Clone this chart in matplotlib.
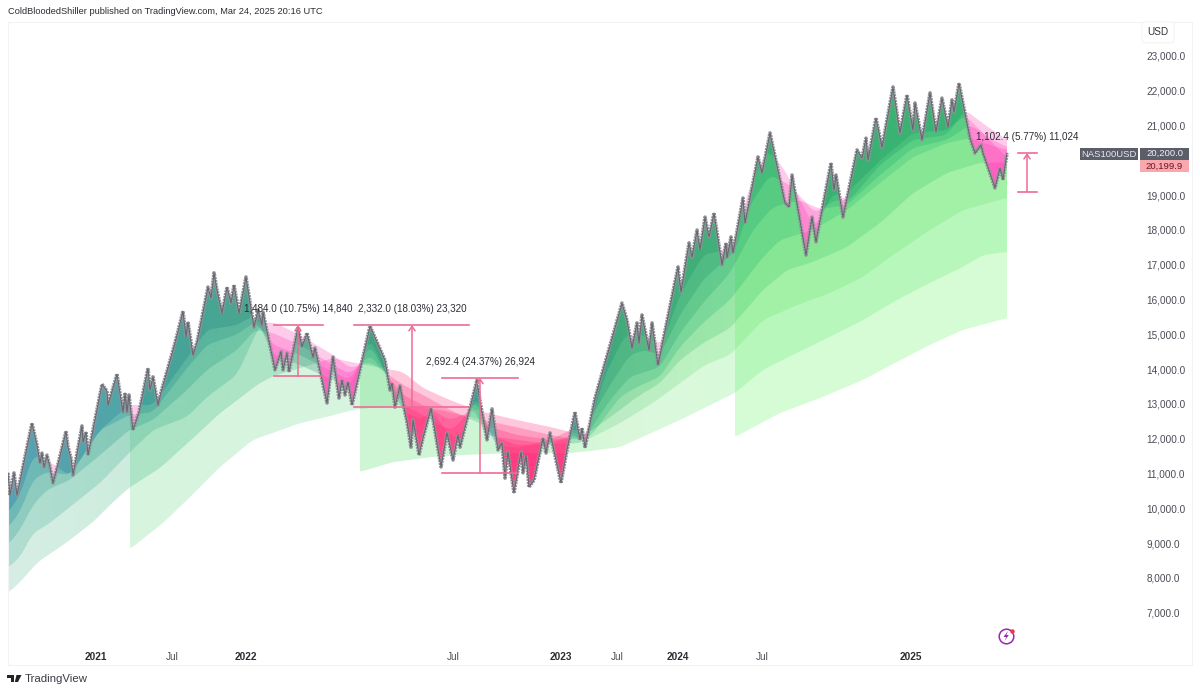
import numpy as np
import matplotlib
matplotlib.use("Agg")
import matplotlib.pyplot as plt
from matplotlib.colors import to_rgb
from matplotlib.patches import Polygon, PathPatch, Rectangle
from matplotlib.path import Path

plt.rcParams["font.family"] = ["Liberation Sans", "DejaVu Sans"]

# renko price pivots: bar position, price
price_x = [8, 10, 14, 17, 32, 37, 40, 42, 44, 47, 50, 53, 57, 66, 68, 71, 73, 82, 83, 86, 88, 102, 107, 108, 117, 123,
           125, 127, 129, 133, 139, 148, 150, 153, 158, 161, 173, 177, 183, 186, 188, 193, 197, 208, 211, 214, 217,
           222, 227, 231, 234, 239, 246, 254, 258, 262, 263, 275, 281, 283, 287, 289, 298, 302, 307, 313, 315, 327,
           333, 339, 342, 345, 348, 352, 370, 385, 390, 392, 395, 400, 405, 407, 411, 413, 417, 419, 423, 431, 441,
           447, 453, 458, 460, 477, 479, 487, 492, 498, 502, 505, 508, 514, 521, 523, 526, 529, 534, 543, 546, 550,
           561, 567, 575, 580, 582, 585, 595, 622, 627, 632, 637, 639, 642, 649, 652, 658, 678, 681, 689, 692, 697,
           700, 705, 709, 714, 722, 726, 727, 731, 733, 743, 745, 758, 762, 770, 785, 789, 792, 806, 812, 816, 831,
           834, 836, 843, 857, 862, 866, 868, 876, 882, 893, 900, 907, 913, 915, 922, 930, 936, 942, 948, 952, 954,
           959, 970, 975, 981, 983, 995, 1000, 1003, 1007]
price_y = [11020, 10380, 11020, 10380, 12450, 11820, 11300, 11590, 11190, 11530, 11190, 10730, 11160, 12220, 11760,
           11450, 10960, 12370, 11910, 12200, 11530, 13570, 13370, 12970, 13860, 12770, 13320, 12770, 13260, 12250,
           12770, 14030, 13400, 13780, 12970, 13340, 14550, 14980, 15670, 14930, 15360, 14410, 14780, 16360, 16040,
           16770, 16280, 15610, 16360, 15900, 16420, 15610, 16650, 15210, 15700, 15270, 15640, 13980, 14500, 13980,
           14460, 13920, 15210, 14640, 15040, 14350, 14610, 13030, 14350, 13170, 13690, 13260, 13630, 12970, 15240,
           14260, 13400, 13600, 12910, 13520, 12740, 12480, 11760, 12540, 11880, 11530, 12020, 12880, 11190, 12170,
           11390, 12110, 11760, 13690, 13260, 11970, 12860, 11680, 11880, 10870, 11620, 10440, 11620, 11020, 11530,
           10610, 10810, 12020, 11590, 12170, 10730, 11680, 12770, 11970, 12310, 11740, 13170, 15900, 15410, 14610,
           15330, 14750, 15560, 14550, 15330, 14120, 16940, 16220, 17630, 17220, 18000, 17430, 18370, 17800, 18490,
           17000, 17630, 17200, 17800, 17340, 18920, 18200, 20100, 19640, 20790, 18780, 18660, 19580, 17280, 18370,
           17660, 19930, 19150, 19580, 18370, 20300, 20070, 20640, 20010, 21220, 20380, 22110, 20790, 21880, 20870,
           21650, 20590, 21940, 20820, 21790, 20960, 21740, 21390, 22220, 20640, 20210, 20440, 20210, 19210, 19780,
           19440, 20210]

# moving average ribbon, slowest first
s735_x = [735, 780, 820, 863, 897, 930, 963, 1007]
s735_y = [12050, 12740, 13170, 13690, 14210, 14700, 15130, 15470]

s360_x = [360, 393, 433, 460, 510, 570, 590, 620, 680, 735, 763, 797, 830, 863, 897, 930, 963, 983, 1007]
s360_y = [11050, 11330, 11480, 11530, 11590, 11590, 11650, 11760, 12540, 13320, 13980, 14470, 14930, 15410, 15990,
          16480, 16940, 17280, 17370]

s130_x = [130, 163, 187, 220, 253, 273, 300, 327, 353, 400, 440, 483, 520, 550, 585, 620, 653, 680, 705, 730, 763,
          797, 830, 863, 890, 930, 963, 1007]
s130_y = [8830, 9580, 10240, 11190, 11970, 12170, 12450, 12630, 12830, 12970, 12830, 12540, 12310, 12110, 11940,
          12450, 13030, 13600, 14120, 14410, 15410, 15840, 16190, 16650, 17220, 18000, 18570, 18920]

s8_x = [8, 20, 38, 67, 93, 113, 129, 160, 180, 200, 220, 240, 257, 273, 300, 333, 350, 403, 423, 450, 483, 517, 550,
        583, 590, 620, 637, 660, 680, 703, 730, 763, 787, 813, 847, 880, 913, 947, 980, 1007]
s8_y = [7570, 7880, 8460, 9030, 9610, 10180, 10590, 11160, 11680, 12200, 12740, 13170, 13550, 13800, 14030, 14320,
        14210, 13920, 13460, 13110, 12770, 12540, 12340, 12110, 12200, 12830, 13200, 13600, 14260, 14750, 15180,
        16280, 16850, 17080, 17510, 18200, 19060, 19640, 19930, 19950]

m4_x = [8, 20, 33, 47, 70, 100, 129, 153, 187, 207, 237, 260, 273, 300, 333, 350, 370, 403, 423, 450, 483, 517, 550,
        583, 590, 620, 637, 660, 680, 703, 730, 763, 780, 813, 847, 880, 913, 947, 970, 990, 1007]
m4_y = [8290, 8600, 9290, 9520, 10040, 10730, 11590, 12250, 12630, 13200, 13840, 15270, 15360, 14980, 14410, 14030,
        14210, 13550, 13260, 12830, 12400, 12110, 11970, 12020, 12050, 13200, 13490, 13780, 14640, 15330, 15990,
        17220, 17710, 18000, 18570, 19350, 20100, 20500, 20640, 20440, 20300]

m3_x = [8, 20, 33, 47, 70, 100, 129, 153, 187, 207, 237, 255, 273, 300, 333, 350, 370, 403, 423, 450, 477, 483, 517,
        550, 583, 590, 610, 630, 660, 680, 703, 730, 753, 773, 800, 820, 847, 880, 913, 947, 970, 990, 1007]
m3_y = [8950, 9380, 10100, 10530, 10820, 11530, 12250, 12540, 13400, 13980, 14550, 15130, 15040, 14700, 14120, 13860,
        14410, 13260, 12970, 12540, 12850, 12110, 11970, 11850, 11880, 12250, 13110, 13780, 14060, 15040, 15900,
        16760, 18000, 18660, 18860, 18600, 18720, 19580, 20360, 20590, 21020, 20640, 20380]

m2_x = [8, 20, 33, 47, 70, 100, 129, 153, 187, 207, 237, 255, 273, 300, 333, 350, 370, 403, 423, 450, 458, 477, 490,
        517, 550, 575, 583, 590, 610, 630, 645, 660, 680, 703, 725, 735, 750, 770, 790, 815, 835, 850, 880, 913, 947,
        965, 985, 1007]
m2_y = [9440, 9900, 10820, 11050, 10960, 12250, 12680, 12770, 14030, 14700, 15000, 15360, 14700, 14410, 13920, 13690,
        14700, 12970, 12680, 12250, 12400, 13110, 12110, 11820, 11850, 12140, 11820, 12540, 13550, 14410, 14550,
        14410, 15560, 16560, 17140, 17370, 18720, 19580, 19290, 18490, 18860, 18860, 19870, 20590, 20730,
        21450, 21020, 20590]

m1_x = [8, 20, 33, 47, 70, 100, 129, 153, 187, 207, 237, 255, 273, 300, 333, 350, 370, 403, 423, 431, 450, 458, 470,
        477, 485, 495, 517, 550, 575, 585, 590, 605, 625, 645, 662, 680, 703, 725, 735, 750, 768, 785, 800, 815, 835,
        843, 850, 880, 913, 947, 965, 985, 1007]
m1_y = [9870, 10380, 11530, 11390, 10940, 12250, 12970, 12970, 14320, 15130, 15270, 15560, 14410, 14120, 13690, 13490,
        14900, 12770, 12540, 12830, 12110, 11970, 12830, 13260, 12540, 11820, 11740, 11970, 12310, 12020, 12400, 13830,
        14980, 14980, 14700, 16130, 17280, 17430, 17710, 19290, 20300, 19720, 18860, 18060, 19150, 18780, 19150, 19990,
        20790, 20870, 21300, 20730, 20070]

# x axis is renko bars, so dates are not evenly spaced
xtick_pos = [96, 172, 246, 453, 561, 617, 678, 762, 911]
xtick_labels = ["2021", "Jul", "2022", "Jul", "2023", "Jul", "2024", "Jul", "2025"]
# 20,000 sits behind the last price labels
ytick_vals = [7000, 8000, 9000, 10000, 11000, 12000, 13000, 14000, 15000, 16000, 17000, 18000, 19000, 21000, 22000,
              23000]

# price range tools
range_names = ["1,484.0 (10.75%) 14,840", "2,332.0 (18.03%) 23,320", "2,692.4 (24.37%) 26,924", "1,102.4 (5.77%) 11,024"]
range_left = [274, 354, 442, 1018]
range_right = [323, 469, 518, 1037]
range_mid = [298, 412, 480, 1027]
range_low = [13800, 12920, 11020, 19090]
range_high = [15270, 15270, 13750, 20210]

last_price = 20200.0
last_close = 20199.9

# colour of each ribbon layer along x
green_stops = [
    [(735, "#44F540"), (1007, "#44F540")],
    [(360, "#20DA40"), (560, "#20DA40"), (620, "#5BDE5B"), (735, "#55E860"), (1007, "#55E860")],
    [(130, "#4DD171"), (360, "#4DD171"), (620, "#4DC870"), (735, "#55E060"), (1007, "#55E060")],
    [(8, "#4DB188"), (130, "#1BAC69"), (360, "#1BAC69"), (620, "#20B060"), (735, "#29BF52"), (1007, "#29BF52")],
    [(8, "#2DA88D"), (130, "#20A080"), (360, "#10A070"), (620, "#10A868"), (1007, "#12BA6D")],
    [(8, "#179188"), (130, "#108C80"), (360, "#109068"), (620, "#109860"), (1007, "#12A464")],
    [(8, "#00769B"), (130, "#007890"), (250, "#108078"), (360, "#108060"), (460, "#3060B0"), (480, "#107080"),
     (540, "#3060C0"), (590, "#107880"), (620, "#0E8860"), (1007, "#0E9164")],
    [(8, "#0056A8"), (130, "#006A90"), (250, "#107068"), (370, "#0E7860"), (460, "#2050C0"), (480, "#106090"),
     (540, "#2050D0"), (590, "#106080"), (620, "#0B8558"), (1007, "#0B8558")],
]
pink_spans = [(8, 378, "#FF30B0"), (378, 392, "#FF2A90"), (392, 600, "#FF2070"), (600, 1007, "#FF30B0")]

ribbon = [(s735_x, s735_y), (s360_x, s360_y), (s130_x, s130_y), (s8_x, s8_y),
          (m4_x, m4_y), (m3_x, m3_y), (m2_x, m2_y), (m1_x, m1_y)]

W, H = 1200, 692
YMIN, YMAX = 5500, 23977
XMIN, XMAX = 8, 1192

fig = plt.figure(figsize=(W / 100, H / 100), dpi=100, facecolor="white")
ax = fig.add_axes([8 / W, (H - 665) / H, 1184 / W, 643 / H])


def px(x, y):
    return x / W, 1 - y / H


def closed(xs, ys, edge):
    # polyline closed against the top or bottom of the pane
    verts = list(zip(xs, ys)) + [(xs[-1], edge), (xs[0], edge), (xs[0], ys[0])]
    return Path(verts, closed=True)


def rounded(xs, ys, win=11):
    # only for drawing: takes the corners off the read points
    gx = np.arange(xs[0], xs[-1] + 1)
    gy = np.interp(gx, xs, ys)
    pad = win // 2
    padded = np.r_[np.full(pad, gy[0]), gy, np.full(pad, gy[-1])]
    return gx, np.convolve(padded, np.ones(win) / win, mode="valid")


lines = [rounded(xs, ys) for xs, ys in ribbon]

# green layers, each fills everything above its line
for (xs, ys), stops in zip(lines, green_stops):
    sx = [s[0] for s in stops]
    rgb = np.array([to_rgb(s[1]) for s in stops])
    img = np.ones((1, len(xs), 4))
    for c in range(3):
        img[0, :, c] = np.interp(xs, sx, rgb[:, c])
    img[0, :, 3] = 0.22
    im = ax.imshow(img, extent=[xs[0], xs[-1], YMIN, YMAX], aspect="auto", zorder=1, interpolation="bilinear")
    im.set_clip_path(PathPatch(closed(xs, ys, YMAX), transform=ax.transData))

# blank out what is above the price
above = closed(price_x, price_y, YMAX)
ax.add_patch(PathPatch(above, fc="white", ec="none", zorder=2))

# pink where a line sits above the price
for xs, ys in lines[1:]:
    for x0, x1, col in pink_spans:
        keep = (xs >= x0) & (xs <= x1)
        if keep.sum() < 2:
            continue
        p = PathPatch(closed(xs[keep], ys[keep], YMIN), fc=col, ec="none", alpha=0.25, zorder=3)
        ax.add_patch(p)
        p.set_clip_path(above, ax.transData)

ax.plot(price_x, price_y, color="#93939a", lw=2.6, zorder=4, dashes=(0.55, 0.25), dash_capstyle="butt")
ax.plot(price_x, price_y, color="#64646e", lw=0.7, zorder=5)

# range tools
rng_col = "#EE6C95"
for name, l, r, m, lo, hi in zip(range_names, range_left, range_right, range_mid, range_low, range_high):
    ax.plot([l, r], [hi, hi], color=rng_col, lw=1.2, zorder=6)
    ax.plot([l, r], [lo, lo], color=rng_col, lw=1.2, zorder=6)
    ax.annotate("", xy=(m, hi), xytext=(m, lo), zorder=6,
                arrowprops=dict(arrowstyle="->,head_width=0.22,head_length=0.32", color=rng_col, lw=1.1,
                                shrinkA=0, shrinkB=0))
    ax.annotate(name, xy=(m, hi), xytext=(0, 8.2), textcoords="offset points", ha="center", va="bottom",
                fontsize=7.1, color="#2b2b33", zorder=7)

# price labels
ax.add_patch(Rectangle((1080, 20011), 58, 345, fc="#5B5E69", ec="none", zorder=8))
ax.add_patch(Rectangle((1140, 20011), 49, 345, fc="#5B5E69", ec="none", zorder=8))
ax.add_patch(Rectangle((1140, 19667), 49, 344, fc="#F9A8AE", ec="none", zorder=8))
ax.text(1109, 20183, "NAS100USD", ha="center", va="center", fontsize=6.8, color="#E8E8EC", zorder=9)
ax.text(1164.5, 20190, f"{last_price:,.1f}", ha="center", va="center", fontsize=6.8, color="#F2F2F5", zorder=9)
ax.text(1164.5, 19830, f"{last_close:,.1f}", ha="center", va="center", fontsize=6.8, color="#6E1320", zorder=9)
ax.text(1158, 23680, "USD", ha="center", va="center", fontsize=7.2, color="#33333B", zorder=8,
        bbox=dict(boxstyle="round,pad=0.55,rounding_size=0.3", fc="white", ec="#F3F3F5", lw=0.8))

ax.set_xlim(XMIN, XMAX)
ax.set_ylim(YMIN, YMAX)
ax.set_xticks(xtick_pos)
ax.set_xticklabels(xtick_labels)
for lab, txt in zip(ax.get_xticklabels(), xtick_labels):
    lab.set_fontweight("bold" if txt != "Jul" else "normal")
    lab.set_color("#2b2b33" if txt != "Jul" else "#4b4b55")
ax.tick_params(axis="x", length=0, pad=-9.5, labelsize=7.2)
ax.yaxis.tick_right()
ax.set_yticks(ytick_vals)
ax.set_yticklabels([f"{v:,.1f}" for v in ytick_vals])
ax.tick_params(axis="y", length=0, pad=-33, labelsize=7.2, labelcolor="#4b4b55")
for s in ax.spines.values():
    s.set_color("#F3F3F5")
    s.set_linewidth(0.8)

# header and footer
fig.text(*px(8, 12), "ColdBloodedShiller published on TradingView.com, Mar 24, 2025 20:16 UTC", fontsize=6.7,
         color="#2b2b33", va="center")
fig.text(*px(25, 679), "TradingView", fontsize=8.2, color="#3b3b44", va="center")

# TradingView logo
logo = [[(7, 675), (14, 675), (14, 682), (10.5, 682), (10.5, 678), (7, 678)],
        [(16.5, 675), (21.5, 675), (18, 682), (14.8, 682)]]
for pts in logo:
    fig.add_artist(Polygon([px(*p) for p in pts], closed=True, transform=fig.transFigure, fc="#22232b", ec="none"))

# lightning badge
ax.plot([1006], [6333], marker="o", ms=10.5, mfc="none", mec="#9C27B0", mew=1.1, zorder=8)
bolt = [(1008, 631), (1003.5, 637), (1006.3, 637), (1004.5, 641), (1008.8, 635), (1006.4, 635)]
fig.add_artist(Polygon([px(*p) for p in bolt], closed=True, transform=fig.transFigure, fc="#9C27B0", ec="none"))
ax.plot([1011.5], [6477], marker="o", ms=3.2, mfc="#F23645", mec="none", zorder=9)

fig.savefig("out.png", dpi=100)
